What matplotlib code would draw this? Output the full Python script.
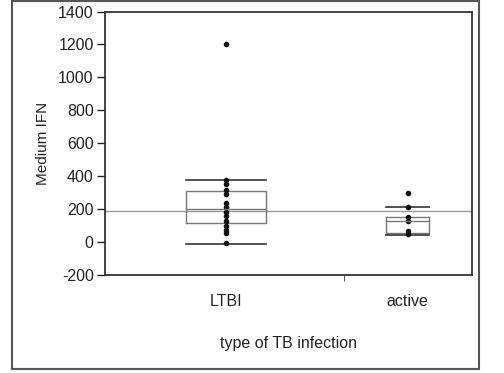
import matplotlib.pyplot as plt
from matplotlib.patches import Rectangle

plt.rcParams['font.family'] = ['Liberation Sans', 'DejaVu Sans']
plt.rcParams['axes.unicode_minus'] = False

groups = ["LTBI", "active"]
ltbi = [1200, 375, 350, 315, 290, 235, 210, 185, 160, 130, 100, 75, 55, -5]
active = [300, 210, 150, 130, 65, 50]
# box summaries: whislo, q1, med, q3, whishi
ltbi_box = [-15, 115, 200, 310, 375]
active_box = [45, 55, 130, 150, 210]
grand_mean = 190

pos = [0.33, 0.824]
widths = [0.218, 0.117]
ink = "#222222"

fig = plt.figure(figsize=(5.04, 3.73), dpi=100)
ax = fig.add_axes([0.208, 0.263, 0.729, 0.706])

stats = []
for name, b in zip(groups, [ltbi_box, active_box]):
    stats.append(dict(label=name, whislo=b[0], q1=b[1], med=b[2], q3=b[3], whishi=b[4]))

ax.bxp(stats, positions=pos, widths=widths, capwidths=widths, showfliers=False,
       boxprops=dict(color="#777777", lw=1.0),
       medianprops=dict(color="#777777", lw=1.0),
       whiskerprops=dict(lw=0),
       capprops=dict(color="#444444", lw=1.3))

ax.axhline(grand_mean, color="#999999", lw=1.0, zorder=1)

ax.plot([pos[0]] * len(ltbi), ltbi, "o", color="#111111", ms=3)
ax.plot([pos[1]] * len(active), active, "o", color="#111111", ms=3)

ax.set_xlim(0, 1)
ax.set_ylim(-200, 1400)
ax.set_yticks(range(-200, 1401, 200))
ax.set_xticks(pos)
ax.set_xticklabels(groups)
ax.set_xticks([0.65], minor=True)
ax.tick_params(axis="x", which="major", length=0, pad=14, labelsize=11.5, colors=ink)
ax.tick_params(axis="x", which="minor", length=4, color="#333333")
ax.tick_params(axis="y", length=6, width=1.0, labelsize=11.5, colors=ink, pad=2)
for s in ax.spines.values():
    s.set_color("#333333")
    s.set_linewidth(1.3)

ax.set_ylabel("Medium IFN", fontsize=11, color=ink, labelpad=6)
ax.set_xlabel("type of TB infection", fontsize=11.5, color=ink, labelpad=19)

fig.patches.append(Rectangle((12 / 504, 4 / 373), 467 / 504, 368 / 373, transform=fig.transFigure,
                             fill=False, ec="#555555", lw=1.5))

fig.savefig("out.png", dpi=100)
